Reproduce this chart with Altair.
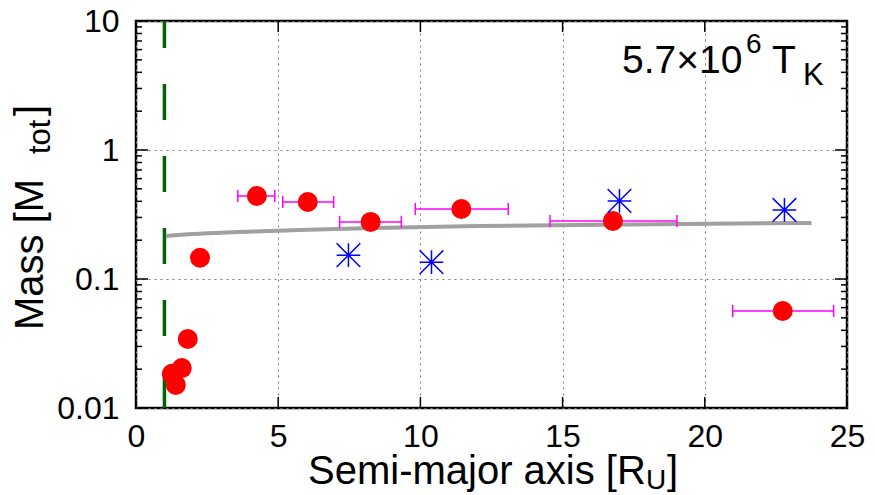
import altair as alt
import pandas as pd

# ---------------- data ----------------
red_x = [1.26, 1.40, 1.61, 1.82, 2.25, 4.25, 6.04, 8.25, 11.44, 16.77, 22.74]
red_mass = [0.0184, 0.0151, 0.0204, 0.0343, 0.146, 0.44, 0.395, 0.277, 0.349, 0.282, 0.0565]

err_x = [4.25, 6.04, 8.25, 11.44, 16.77, 22.74]
err_mass = [0.44, 0.395, 0.277, 0.349, 0.282, 0.0565]
err_lo = [3.58, 5.16, 7.16, 9.82, 14.56, 20.98]
err_hi = [4.88, 6.95, 9.33, 13.09, 19.02, 24.53]

blue_x = [7.47, 10.39, 17.0, 22.8]
blue_mass = [0.153, 0.135, 0.403, 0.343]

curve_x = [1.05, 2.0, 3.58, 5.75, 8.4, 12.0, 17.3, 23.75]
curve_mass = [0.215, 0.223, 0.231, 0.240, 0.248, 0.257, 0.265, 0.272]

roche_x = [1.0]

x_ticks = [0, 5, 10, 15, 20, 25]
y_ticks = [0.01, 0.1, 1, 10]
y_minor = [2e-2, 3e-2, 4e-2, 5e-2, 6e-2, 7e-2, 8e-2, 9e-2,
           0.2, 0.3, 0.4, 0.5, 0.6, 0.7, 0.8, 0.9,
           2, 3, 4, 5, 6, 7, 8, 9]

# ---------------- layout ----------------
W, H = 711, 387
FONT = "Liberation Sans"

xs = alt.Scale(domain=[0, 25], nice=False, zero=False)
ys = alt.Scale(type="log", domain=[0.01, 10], nice=False)

AX = alt.Axis(values=x_ticks, title=None, ticks=False, domain=False,
              grid=True, gridColor="#7a7a7a", gridDash=[2, 4], gridWidth=1,
              labelFont=FONT, labelFontSize=32, labelColor="black",
              labelPadding=13, labelFlush=False)
AY = alt.Axis(values=y_ticks, format="~g", title=None, ticks=False, domain=False,
              grid=True, gridColor="#7a7a7a", gridDash=[2, 4], gridWidth=1,
              labelFont=FONT, labelFontSize=32, labelColor="black",
              labelPadding=17, labelFlush=False)

red_df = pd.DataFrame({"x": red_x, "m": red_mass})
err_df = pd.DataFrame({"x": err_x, "m": err_mass, "lo": err_lo, "hi": err_hi})
blue_df = pd.DataFrame({"x": blue_x, "m": blue_mass})
curve_df = pd.DataFrame({"x": curve_x, "m": curve_mass})
roche_df = pd.DataFrame({"x": roche_x})
xt_df = pd.DataFrame({"x": x_ticks})
yt_df = pd.DataFrame({"m": y_ticks})
ym_df = pd.DataFrame({"m": y_minor})


def X(f):
    return alt.X(f, scale=xs, axis=AX)


def Y(f):
    return alt.Y(f, scale=ys, axis=AY)


roche = alt.Chart(roche_df).mark_rule(color="#006400", strokeWidth=3.5, strokeDash=[36, 36]).encode(
    x=X("x:Q"), y=alt.value(H), y2=alt.value(0))

curve = alt.Chart(curve_df).mark_line(color="#a0a0a0", strokeWidth=4, interpolate="monotone").encode(
    x=X("x:Q"), y=Y("m:Q"))

ebar = alt.Chart(err_df).mark_rule(color="#ff00ff", strokeWidth=1.5).encode(
    x=X("lo:Q"), x2="hi:Q", y=Y("m:Q"))
cap_lo = alt.Chart(err_df).mark_tick(color="#ff00ff", orient="vertical", size=12, thickness=1.5, opacity=1).encode(
    x=X("lo:Q"), y=Y("m:Q"))
cap_hi = alt.Chart(err_df).mark_tick(color="#ff00ff", orient="vertical", size=12, thickness=1.5, opacity=1).encode(
    x=X("hi:Q"), y=Y("m:Q"))

red = alt.Chart(red_df).mark_circle(color="#ff0000", size=400, opacity=1).encode(
    x=X("x:Q"), y=Y("m:Q"))

ASTER = "M-1,0L1,0M0,-1L0,1M-1,-1L1,1M-1,1L1,-1"
blue = alt.Chart(blue_df).mark_point(shape=ASTER, size=560, filled=False, stroke="#0000ff",
                                     strokeWidth=1.5, opacity=1).encode(
    x=X("x:Q"), y=Y("m:Q"))


# inward ticks
def xtick(y0, y1):
    return alt.Chart(xt_df).mark_rule(color="black", strokeWidth=1.5).encode(
        x=X("x:Q"), y=alt.value(y0), y2=alt.value(y1))


def ytick(df, x0, x1):
    return alt.Chart(df).mark_rule(color="black", strokeWidth=1.5).encode(
        y=Y("m:Q"), x=alt.value(x0), x2=alt.value(x1))


ticks = [xtick(H, H - 11), xtick(0, 11),
         ytick(yt_df, 0, 12), ytick(ym_df, 0, 6),
         ytick(yt_df, W, W - 12), ytick(ym_df, W, W - 6)]


# text pieces (titles with sub/superscripts)
def txt(s, x, y, size, angle=0):
    kw = dict(align="left", baseline="alphabetic", font=FONT, fontSize=size, color="black")
    if angle:
        kw["angle"] = angle
    return alt.Chart(pd.DataFrame({"t": [s]})).mark_text(**kw).encode(
        text="t:N", x=alt.value(x), y=alt.value(y))


texts = [
    # x title
    txt("Semi-major axis [R", 172, 463, 40),
    txt("U", 510, 468, 28),
    txt("]", 531, 463, 40),
    # y title
    txt("Mass [M", -93, 309, 40, 270),
    txt("tot", -86, 133, 31, 270),
    txt("]", -93, 95, 40, 270),
    # annotation
    txt("5.7×10", 486, 52, 39),
    txt("6", 610, 32, 28),
    txt("T", 636, 52, 39),
    txt("K", 667, 64, 31),
]

chart = alt.layer(roche, curve, ebar, cap_lo, cap_hi, red, blue, *ticks, *texts).properties(
    width=W, height=H,
    autosize=alt.AutoSizeParams(type="none"),
    padding={"left": 136, "top": 21, "right": 28, "bottom": 87},
    background="white",
).configure_view(stroke="black", strokeWidth=2.5)

chart.save("out.html", embed_options={"renderer": "svg", "actions": False})
